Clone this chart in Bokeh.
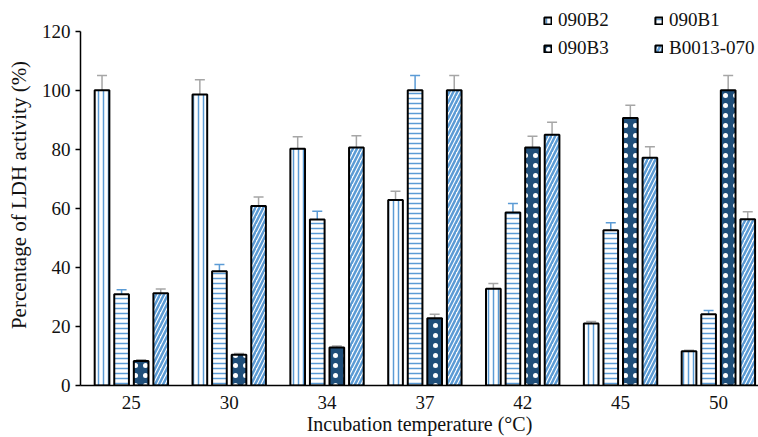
from bokeh.plotting import figure
from bokeh.models import ColumnDataSource, Whisker, TeeHead, FixedTicker, Range1d, Legend, LegendItem
from bokeh.transform import dodge
from bokeh.embed import file_html
from bokeh.resources import INLINE

temps = ["25", "30", "34", "37", "42", "45", "50"]
b2 = [100, 98.5, 80.2, 62.8, 32.8, 21.0, 11.6]
b2_err = [5, 5, 4, 3, 1.7, 0.7, 0.3]
b1 = [30.9, 38.7, 56.2, 100, 58.6, 52.6, 24.1]
b1_err = [1.5, 2.3, 2.8, 5, 3, 2.5, 1.3]
b3 = [8.3, 10.4, 12.9, 22.8, 80.6, 90.6, 100]
b3_err = [0.4, 0.4, 0.5, 1.3, 3.8, 4.3, 5]
b0013 = [31.2, 60.8, 80.6, 100, 84.9, 77.1, 56.3]
b0013_err = [1.5, 3, 4, 5, 4.2, 3.7, 2.5]
yticks = [0, 20, 40, 60, 80, 100, 120]

BLUE = "#5b9bd5"
NAVY = "#1f4e79"
GRAY = "#a6a6a6"
FONT = "Liberation Serif"

x = list(range(len(temps)))
src = ColumnDataSource(dict(
    x=x,
    b2=b2, b2_lo=[v - e for v, e in zip(b2, b2_err)], b2_hi=[v + e for v, e in zip(b2, b2_err)],
    b1=b1, b1_lo=[v - e for v, e in zip(b1, b1_err)], b1_hi=[v + e for v, e in zip(b1, b1_err)],
    b3=b3, b3_lo=[v - e for v, e in zip(b3, b3_err)], b3_hi=[v + e for v, e in zip(b3, b3_err)],
    b4=b0013, b4_lo=[v - e for v, e in zip(b0013, b0013_err)], b4_hi=[v + e for v, e in zip(b0013, b0013_err)],
))

# frame extends a little above the 120 tick so the legend can sit up there
p = figure(width=758, height=437, output_backend="svg", toolbar_location=None,
           x_range=Range1d(-0.52, 6.41), y_range=Range1d(0, 129),
           min_border_left=80, min_border_right=0, min_border_top=4, min_border_bottom=52)
p.outline_line_color = None
p.xgrid.visible = False
p.ygrid.visible = False

W = 0.15
r_b2 = p.vbar(x=dodge("x", -0.3), top="b2", width=W, source=src, fill_color="white",
              line_color="black", line_width=2, hatch_pattern="|", hatch_color=BLUE,
              hatch_scale=5, hatch_weight=1.5)
r_b1 = p.vbar(x=dodge("x", -0.1), top="b1", width=W, source=src, fill_color="white",
              line_color="black", line_width=2, hatch_pattern="-", hatch_color=BLUE,
              hatch_scale=5, hatch_weight=1.5)
r_b3 = p.vbar(x=dodge("x", 0.1), top="b3", width=W, source=src, fill_color=NAVY,
              line_color="black", line_width=2, hatch_pattern=".", hatch_color="white",
              hatch_scale=10, hatch_weight=0.8)
r_b4 = p.vbar(x=dodge("x", 0.3), top="b4", width=W, source=src, fill_color="white",
              line_color="black", line_width=2, hatch_pattern="/", hatch_color=BLUE,
              hatch_scale=8, hatch_weight=2.5)

for off, key, col in [(-0.3, "b2", GRAY), (-0.1, "b1", BLUE), (0.1, "b3", GRAY), (0.3, "b4", GRAY)]:
    w = Whisker(base=dodge("x", off), upper=key + "_hi", lower=key + "_lo", source=src,
                line_color=col, line_width=1.5,
                upper_head=TeeHead(size=10, line_color=col, line_width=1.5),
                lower_head=TeeHead(size=10, line_color=col, line_width=1.5))
    p.add_layout(w)

p.xaxis.ticker = FixedTicker(ticks=x)
p.xaxis.major_label_overrides = {i: t for i, t in enumerate(temps)}
p.yaxis.ticker = FixedTicker(ticks=yticks)
p.yaxis.bounds = (0, 120)
p.xaxis.axis_label = "Incubation temperature (\u00b0C)"
p.yaxis.axis_label = "Percentage of LDH activity (%)"
for ax in (p.xaxis, p.yaxis):
    ax.axis_line_color = "black"
    ax.axis_line_width = 1.5
    ax.major_label_text_font = FONT
    ax.major_label_text_font_size = "19px"
    ax.major_label_text_color = "#111111"
    ax.axis_label_text_font = FONT
    ax.axis_label_text_font_style = "normal"
    ax.axis_label_text_color = "#111111"
    ax.minor_tick_line_color = None
p.xaxis.axis_label_text_font_size = "20px"
p.yaxis.axis_label_text_font_size = "21px"
p.xaxis.major_tick_line_color = None
p.xaxis.major_label_standoff = 4
p.xaxis.axis_label_standoff = 1
p.yaxis.major_tick_out = 5
p.yaxis.major_tick_in = 0
p.yaxis.major_tick_line_color = "black"
p.yaxis.major_tick_line_width = 1.5
p.yaxis.major_label_standoff = 5
p.yaxis.axis_label_standoff = 8


def make_legend(items, loc):
    lg = Legend(items=items, location=loc, orientation="vertical",
                glyph_width=9, glyph_height=9, label_standoff=6, spacing=6,
                padding=0, margin=0, background_fill_alpha=0, border_line_color=None,
                label_text_font=FONT, label_text_font_size="19px", label_text_color="#111111",
                label_height=20)
    p.add_layout(lg)


make_legend([LegendItem(label="090B2", renderers=[r_b2]), LegendItem(label="090B3", renderers=[r_b3])], (463, 326))
make_legend([LegendItem(label="090B1", renderers=[r_b1]), LegendItem(label="B0013-070", renderers=[r_b4])], (574, 326))

open("out.html", "w").write(file_html(p, INLINE))
